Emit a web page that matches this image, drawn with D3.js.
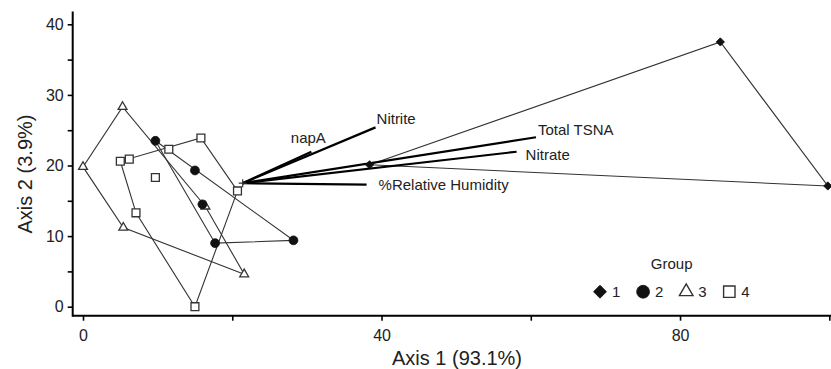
<!DOCTYPE html>
<html>
<head>
<meta charset="utf-8">
<script src="https://cdn.jsdelivr.net/npm/d3@7"></script>
<style>
  body { margin: 0; background: #fff; }
  svg { display: block; font-family: "Liberation Sans", Arial, sans-serif; }
</style>
</head>
<body>
<div id="chart"></div>
<script>
// ---------------------------------- DATA ---------------------------------- //

let group1 = [[38.4, 20.1], [85.4, 37.5], [99.8, 17.1]];
let group2 = [[9.7, 23.5], [15.0, 19.3], [16.0, 14.5], [17.7, 9.0], [28.2, 9.4]];
let group3 = [[0, 19.8], [5.3, 28.3], [5.4, 11.2], [16.4, 14.2], [21.6, 4.6]];
let group4 = [[5.0, 20.6], [6.2, 20.9], [9.7, 18.3], [7.1, 13.3], [11.5, 22.3], [15.8, 23.9], [20.7, 16.4], [15.0, 0]];

let vector_origin = [21.4, 17.5];
let vector_names = ['napA', 'Nitrite', 'Total TSNA', 'Nitrate', '%Relative Humidity'];
let vector_x = [30.6, 39.2, 60.7, 58.1, 38.0];
let vector_y = [21.95, 25.4, 24.0, 21.95, 17.3];

let x_ticks = [0, 20, 40, 60, 80, 100];
let x_labels = [0, 40, 80];
let y_ticks = [0, 5, 10, 15, 20, 25, 30, 35, 40];
let y_labels = [0, 10, 20, 30, 40];
let group_names = ['1', '2', '3', '4'];

// ---------------------------------- SETTINGS ---------------------------------- //

let img_width = 831;
let img_height = 369;
let line_color = '#333';
let mark_color = '#111';
let text_color = '#222';

// label offsets from vector tips (dx, dy, anchor)
let label_place = {
  'napA': [-3, -14, 'middle'],
  'Nitrite': [1, -9, 'start'],
  'Total TSNA': [2, -8, 'start'],
  'Nitrate': [9, 3, 'start'],
  '%Relative Humidity': [12, 0, 'start']
};

// ---------------------------------- SCALES ---------------------------------- //

let x = d3.scaleLinear().domain([0, 100]).range([83, 829.3]);
let y = d3.scaleLinear().domain([0, 40]).range([306.7, 24.3]);
let axis_x0 = 72.7;
let axis_y0 = 315.7;

let svg = d3.select('#chart').append('svg')
  .attr('width', img_width)
  .attr('height', img_height);

// ---------------------------------- AXES ---------------------------------- //

let x_axis = d3.axisBottom(x)
  .tickValues(x_ticks)
  .tickSize(5)
  .tickPadding(9)
  .tickFormat(d => x_labels.includes(d) ? d : '');

let gx = svg.append('g')
  .attr('transform', `translate(0,${axis_y0})`)
  .call(x_axis);
gx.select('.domain').remove();
gx.append('line')
  .attr('x1', axis_x0).attr('x2', img_width)
  .attr('stroke', '#000').attr('stroke-width', 2);

let y_axis = d3.axisLeft(y)
  .tickValues(y_ticks)
  .tickSize(5)
  .tickPadding(4)
  .tickFormat(d => y_labels.includes(d) ? d : '');

let gy = svg.append('g')
  .attr('transform', `translate(${axis_x0},0)`)
  .call(y_axis);
gy.select('.domain').remove();
gy.append('line')
  .attr('y1', 11.5).attr('y2', axis_y0 + 1)
  .attr('stroke', '#000').attr('stroke-width', 2);

svg.selectAll('.tick line').attr('stroke', '#000').attr('stroke-width', 1.6);
svg.selectAll('.tick text')
  .attr('fill', text_color)
  .style('font-size', '16px')
  .style('font-family', '"Liberation Sans", Arial, sans-serif');

svg.append('text')
  .attr('x', 457).attr('y', 365)
  .attr('text-anchor', 'middle')
  .attr('fill', text_color)
  .style('font-size', '20px')
  .text('Axis 1 (93.1%)');

svg.append('text')
  .attr('transform', `translate(32,174) rotate(-90)`)
  .attr('text-anchor', 'middle')
  .attr('fill', text_color)
  .style('font-size', '20px')
  .text('Axis 2 (3.9%)');

// ---------------------------------- HULLS ---------------------------------- //

let groups = [group4, group3, group2, group1];
let hull_line = d3.line().x(d => x(d[0])).y(d => y(d[1])).curve(d3.curveLinearClosed);

svg.append('g').selectAll('path')
  .data(groups)
  .enter()
  .append('path')
  .attr('d', g => hull_line(d3.polygonHull(g)))
  .attr('fill', 'none')
  .attr('stroke', line_color)
  .attr('stroke-width', 1.1);

// ---------------------------------- VECTORS ---------------------------------- //

let vectors = vector_names.map((n, i) => ({ name: n, x: vector_x[i], y: vector_y[i] }));

let gv = svg.append('g');
gv.selectAll('line')
  .data(vectors)
  .enter()
  .append('line')
  .attr('x1', x(vector_origin[0]))
  .attr('y1', y(vector_origin[1]))
  .attr('x2', d => x(d.x))
  .attr('y2', d => y(d.y))
  .attr('stroke', '#000')
  .attr('stroke-width', 2.2);

gv.selectAll('text')
  .data(vectors)
  .enter()
  .append('text')
  .attr('x', d => x(d.x) + label_place[d.name][0])
  .attr('y', d => y(d.y) + label_place[d.name][1])
  .attr('dy', '0.35em')
  .attr('text-anchor', d => label_place[d.name][2])
  .attr('fill', text_color)
  .style('font-size', '15px')
  .text(d => d.name);

// ---------------------------------- POINTS ---------------------------------- //

let diamond = d3.symbol().type(d3.symbolSquare).size(34);
let circle = d3.symbol().type(d3.symbolCircle).size(62);
let triangle = d3.symbol().type(d3.symbolTriangle).size(34);
let square = d3.symbol().type(d3.symbolSquare).size(62);

function drawPoints(data, sym, filled, rot) {
  svg.append('g').selectAll('path')
    .data(data)
    .enter()
    .append('path')
    .attr('d', sym)
    .attr('transform', d => `translate(${x(d[0])},${y(d[1])}) rotate(${rot})`)
    .attr('fill', filled ? mark_color : '#fff')
    .attr('stroke', filled ? mark_color : line_color)
    .attr('stroke-width', filled ? 0.8 : 1.3);
}

drawPoints(group4, square, false, 0);
drawPoints(group3, triangle, false, 0);
drawPoints(group2, circle, true, 0);
drawPoints(group1, diamond, true, 45);

// origin cross
let ox = x(vector_origin[0]);
let oy = y(vector_origin[1]);
svg.append('path')
  .attr('d', `M${ox - 4},${oy}H${ox + 4}M${ox},${oy - 4}V${oy + 4}`)
  .attr('stroke', line_color)
  .attr('stroke-width', 1.2);

// ---------------------------------- LEGEND ---------------------------------- //

let legend_syms = [
  d3.symbol().type(d3.symbolSquare).size(84),
  d3.symbol().type(d3.symbolCircle).size(130),
  d3.symbol().type(d3.symbolTriangle).size(80),
  d3.symbol().type(d3.symbolSquare).size(130)
];
let legend_x = d3.scalePoint().domain(group_names).range([600, 729.3]);

let gl = svg.append('g');
gl.append('text')
  .attr('x', 671.7).attr('y', 264)
  .attr('dy', '0.35em')
  .attr('text-anchor', 'middle')
  .attr('fill', text_color)
  .style('font-size', '15px')
  .text('Group');

group_names.forEach((n, i) => {
  let filled = i < 2;
  gl.append('path')
    .attr('d', legend_syms[i])
    .attr('transform', `translate(${legend_x(n)},291.7) rotate(${i === 0 ? 45 : 0})`)
    .attr('fill', filled ? mark_color : '#fff')
    .attr('stroke', filled ? mark_color : line_color)
    .attr('stroke-width', filled ? 0.8 : 1.4);
  gl.append('text')
    .attr('x', legend_x(n) + 12)
    .attr('y', 291.7)
    .attr('dy', '0.35em')
    .attr('fill', text_color)
    .style('font-size', '15px')
    .text(n);
});
</script>
</body>
</html>
